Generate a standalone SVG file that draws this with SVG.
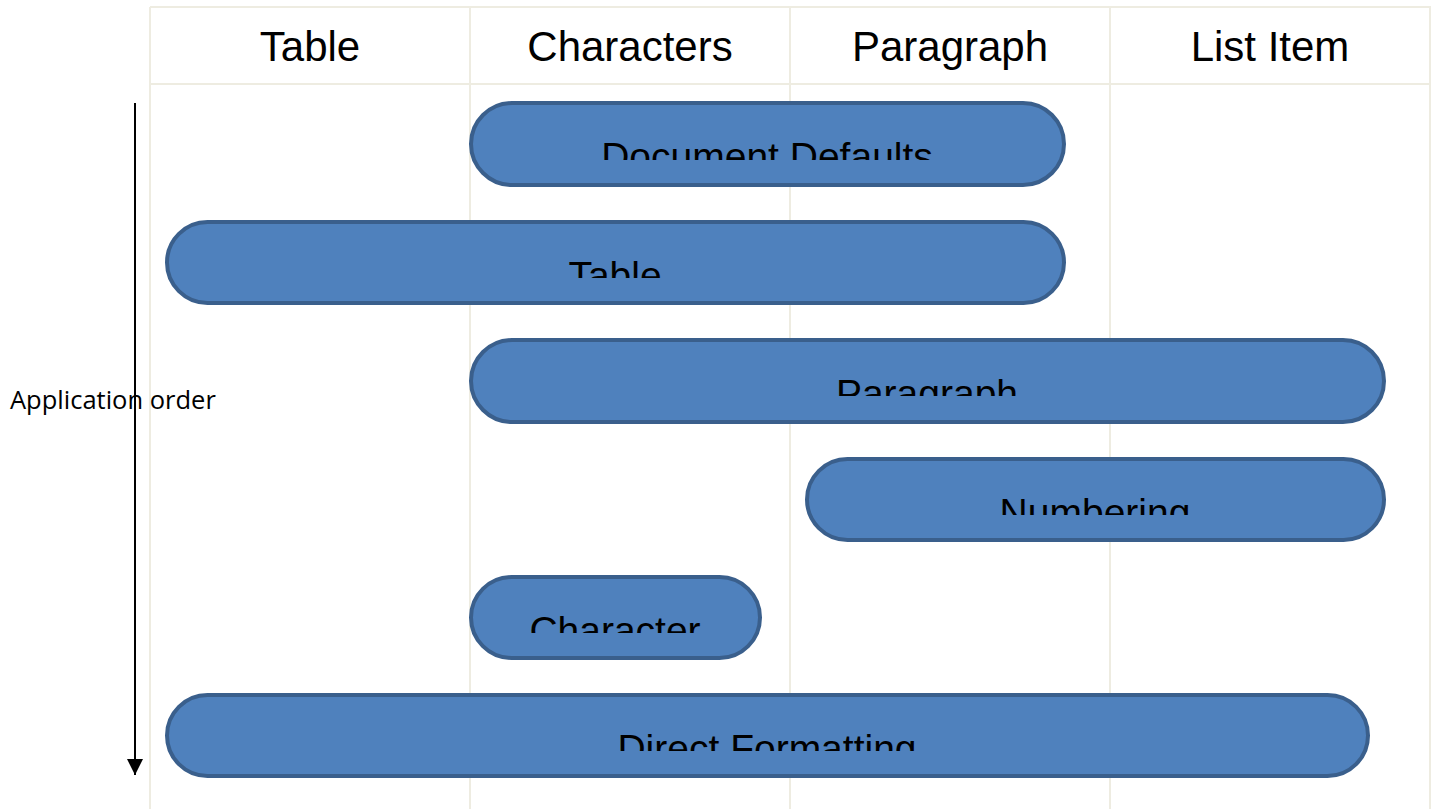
<svg xmlns="http://www.w3.org/2000/svg" width="1431" height="809" viewBox="0 0 1431 809">
<style>
.grid{stroke:#EEECE1;stroke-width:2;fill:none}
.hdr{font-family:"Liberation Sans",Arial,sans-serif;font-size:42px;fill:#000;text-anchor:middle}
.pill{fill:#4F81BD;stroke:#3A5F8C;stroke-width:4}
.lbl{font-family:"Liberation Sans",Arial,sans-serif;font-size:39px;fill:#000;text-anchor:middle}
.side{font-family:"Open Sans","Liberation Sans",sans-serif;font-size:25.5px;fill:#000}
</style>
<defs>
<marker id="ah" markerWidth="16" markerHeight="16" viewBox="0 0 16 16" refX="16" refY="8" orient="auto" markerUnits="userSpaceOnUse">
<path d="M0,0 L16,8 L0,16 Z" fill="#000"/>
</marker>
<clipPath id="c1"><rect x="470" y="100" width="600" height="60"/></clipPath>
<clipPath id="c2"><rect x="166" y="219" width="900" height="59"/></clipPath>
<clipPath id="c3"><rect x="470" y="337" width="916" height="59"/></clipPath>
<clipPath id="c4"><rect x="806" y="456" width="580" height="59"/></clipPath>
<clipPath id="c5"><rect x="470" y="574" width="292" height="59"/></clipPath>
<clipPath id="c6"><rect x="166" y="692" width="1204" height="59"/></clipPath>
</defs>
<rect width="1431" height="809" fill="#fff"/>
<g id="grid">
<line class="grid" x1="150" y1="7" x2="1431" y2="7"/>
<line class="grid" x1="150" y1="84" x2="1431" y2="84"/>
<line class="grid" x1="150" y1="7" x2="150" y2="809"/>
<line class="grid" x1="470" y1="7" x2="470" y2="809"/>
<line class="grid" x1="790" y1="7" x2="790" y2="809"/>
<line class="grid" x1="1110" y1="7" x2="1110" y2="809"/>
<line class="grid" x1="1430" y1="7" x2="1430" y2="809"/>
</g>
<g id="headers">
<text class="hdr" x="310" y="61">Table</text>
<text class="hdr" x="630" y="61">Characters</text>
<text class="hdr" x="950" y="61">Paragraph</text>
<text class="hdr" x="1270" y="61">List Item</text>
</g>
<g id="connectors">
<line x1="135" y1="103" x2="135" y2="775" stroke="#000" stroke-width="2" marker-end="url(#ah)"/>
</g>
<text class="side" x="10" y="409">Application order</text>
<g id="n-docdefaults">
<rect class="pill" x="471" y="103" width="593" height="82" rx="41"/>
<text class="lbl" x="767" y="170" clip-path="url(#c1)">Document Defaults</text>
</g>
<g id="n-table">
<rect class="pill" x="167" y="222" width="897" height="81" rx="40.5"/>
<text class="lbl" x="615" y="289" clip-path="url(#c2)">Table</text>
</g>
<g id="n-paragraph">
<rect class="pill" x="471" y="340" width="913" height="82" rx="41"/>
<text class="lbl" x="927" y="407" clip-path="url(#c3)">Paragraph</text>
</g>
<g id="n-numbering">
<rect class="pill" x="807" y="459" width="577" height="81" rx="40.5"/>
<text class="lbl" x="1095" y="526" clip-path="url(#c4)">Numbering</text>
</g>
<g id="n-character">
<rect class="pill" x="471" y="577" width="289" height="81" rx="40.5"/>
<text class="lbl" x="615" y="644" clip-path="url(#c5)">Character</text>
</g>
<g id="n-direct">
<rect class="pill" x="167" y="695" width="1201" height="81" rx="40.5"/>
<text class="lbl" x="767" y="762" clip-path="url(#c6)">Direct Formatting</text>
</g>
</svg>
